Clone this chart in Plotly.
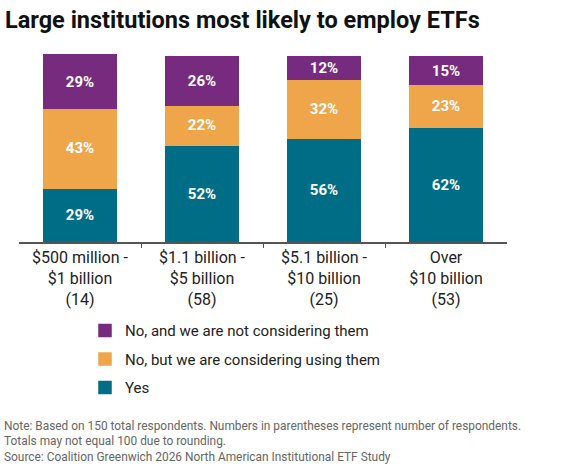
import plotly.graph_objects as go

categories = ["$500 million -<br>$1 billion<br>(14)",
              "$1.1 billion -<br>$5 billion<br>(58)",
              "$5.1 billion -<br>$10 billion<br>(25)",
              "Over<br>$10 billion<br>(53)"]
yes_vals = [29, 52, 56, 62]
considering_vals = [43, 22, 32, 23]
not_considering_vals = [29, 26, 12, 15]

series = [
    ("Yes", yes_vals, "#006D86", "g1", 3),
    ("No, but we are considering using them", considering_vals, "#EFA64B", "g2", 2),
    ("No, and we are not considering them", not_considering_vals, "#772B7E", "g3", 1),
]

FONT = "Roboto"
W, H = 571, 470
L, R, T, B = 19, 64, 54, 228

fig = go.Figure()
for name, vals, color, grp, rank in series:
    fig.add_trace(go.Bar(
        x=list(range(len(categories))), y=vals, name=name, legendgroup=grp,
        legendrank=rank,
        marker=dict(color=color, line=dict(width=1.5, color=color)),
        width=0.588,
        text=[f"{v}%" for v in vals], textposition="inside",
        insidetextanchor="middle", textangle=0, constraintext="none",
        textfont=dict(family=FONT, size=15, color="white", weight="bold"),
        hoverinfo="skip",
    ))

fig.update_layout(
    width=W, height=H, barmode="stack",
    margin=dict(l=L, r=R, t=T, b=B, pad=0),
    paper_bgcolor="white", plot_bgcolor="white",
    font=dict(family=FONT, color="#222222"),
    title=dict(text="<b>Large institutions most likely to employ ETFs</b>",
               x=5 / W, xanchor="left", xref="container",
               y=1 - 20 / H, yanchor="middle", yref="container",
               font=dict(family=FONT, size=23.5, color="#111111")),
    xaxis=dict(range=[-0.5, 3.5], tickmode="array",
               tickvals=list(range(len(categories))), ticktext=categories,
               ticks="", showline=True, linecolor="#555555", linewidth=1.5,
               showgrid=False, zeroline=False,
               tickfont=dict(family=FONT, size=16, color="#222222")),
    xaxis2=dict(overlaying="x", range=[-0.5, 3.5], tickmode="array",
                tickvals=[0.5, 1.5, 2.5], showticklabels=False,
                ticks="outside", ticklen=5, tickwidth=1.2, tickcolor="#555555",
                showgrid=False, zeroline=False, showline=False, side="bottom",
                anchor="y"),
    yaxis=dict(range=[0, 101.4], visible=False, showgrid=False, zeroline=False),
    showlegend=True,
    legend=dict(x=(85 - L) / (W - L - R), xanchor="left",
                y=(241.7 - 314) / (470 - T - B), yanchor="top",
                traceorder="grouped", tracegroupgap=6,
                itemclick=False, itemdoubleclick=False,
                font=dict(family=FONT, size=15, color="#222222"),
                bgcolor="rgba(0,0,0,0)"),
    annotations=[dict(
        text=("Note: Based on 150 total respondents. Numbers in parentheses represent number of respondents.<br>"
              "Totals may not equal 100 due to rounding.<br>"
              "Source: Coalition Greenwich 2026 North American Institutional ETF Study"),
        xref="paper", yref="paper", x=(2 - L) / (W - L - R), xanchor="left",
        y=(241.7 - 417) / (470 - T - B), yanchor="top", align="left",
        showarrow=False, font=dict(family=FONT, size=11.9, color="#666666"))],
)
# invisible trace to activate xaxis2 for boundary ticks
fig.add_trace(go.Scatter(x=[0], y=[0], xaxis="x2", mode="markers",
                         marker=dict(opacity=0), showlegend=False, hoverinfo="skip"))

fig.write_html("out.html")
